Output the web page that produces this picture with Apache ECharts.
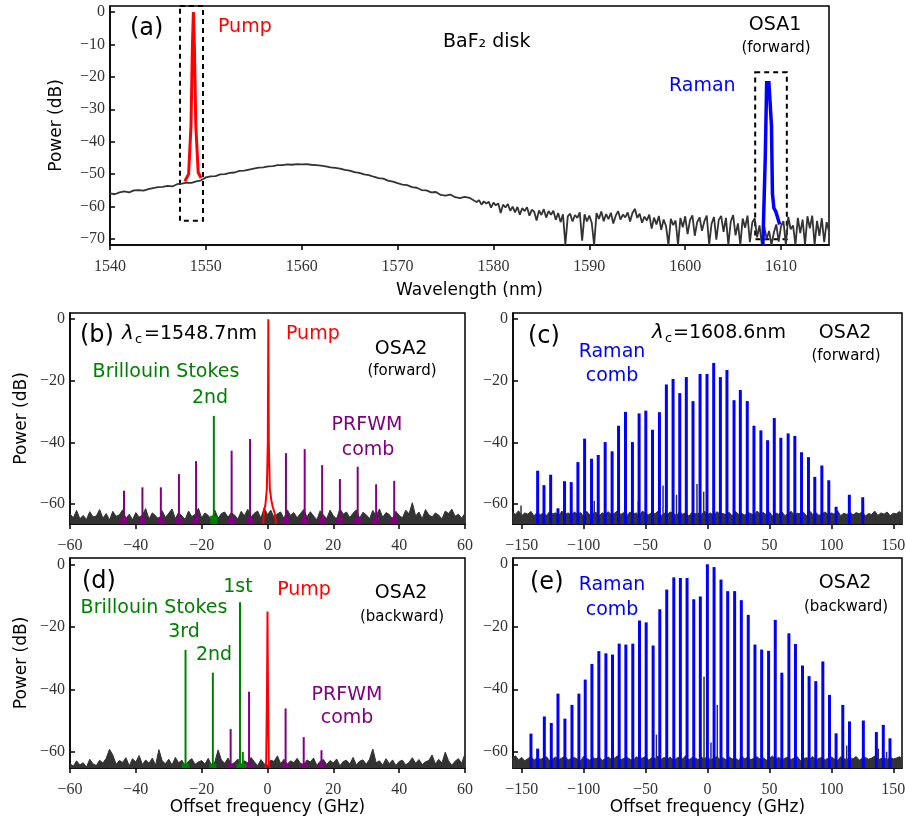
<!DOCTYPE html>
<html>
<head>
<meta charset="utf-8">
<script src="https://cdn.jsdelivr.net/npm/echarts@6/dist/echarts.min.js"></script>
<style>
  html, body { margin: 0; padding: 0; background: #fff; }
  #chart { width: 906px; height: 822px; }
</style>
</head>
<body>
<div id="chart"></div>
<script>
// ---- (a) OSA1 broadband spectrum ----
const aSmoothStart = 1540, aSmoothStep = 0.5
const aSmooth = [
  -55.9, -56.2, -55.6, -55.3, -55.6, -55.0, -54.9, -55.1, -54.6, -54.3,
  -54.0, -53.9, -53.6, -53.8, -53.1, -52.9, -52.6, -52.7, -52.2, -51.9,
  -51.0, -50.7, -50.6, -50.1, -50.0, -49.6, -49.5, -49.0, -48.9, -48.6,
  -48.3, -48.0, -47.9, -47.6, -47.5, -47.2, -47.2, -47.0, -47.1, -46.9,
  -47.0, -46.9, -47.1, -47.2, -47.4, -47.6, -47.9, -48.1, -48.3, -48.7,
  -48.9, -49.4, -49.6, -50.1, -50.3, -50.8, -51.2, -51.4, -52.0, -52.3,
  -52.8, -53.2, -53.4, -54.0, -54.2, -54.9, -55.0, -55.6, -55.5, -56.4,
  -56.6, -56.3, -57.1, -57.4, -57.0, -57.3,
]
const aNoiseStart = 1578, aNoiseStep = 0.25
const aNoise = [
  -58.2, -58.6, -58.0, -59.4, -58.4, -59.1, -58.5, -60.3,
  -58.8, -59.6, -59.0, -62.0, -59.4, -60.3, -59.2, -61.3,
  -60.0, -61.8, -60.1, -62.5, -60.5, -61.4, -60.2, -62.8,
  -61.0, -61.6, -64.3, -61.2, -62.6, -60.8, -63.4, -61.4,
  -62.5, -61.3, -64.1, -62.0, -64.8, -62.4, -71.8, -63.0,
  -62.2, -64.6, -62.6, -63.5, -61.8, -70.5, -62.4, -64.6,
  -62.8, -65.0, -71.8, -62.0, -63.8, -61.5, -64.5, -62.3,
  -63.9, -61.9, -65.2, -62.8, -61.4, -64.0, -62.5, -63.3,
  -61.8, -64.6, -62.0, -60.7, -63.5, -62.2, -65.0, -63.1,
  -64.3, -62.5, -66.8, -63.4, -65.5, -62.9, -67.2, -64.0,
  -66.0, -71.8, -63.8, -65.7, -64.3, -71.8, -63.5, -66.4,
  -63.0, -68.5, -64.2, -62.7, -69.0, -64.8, -63.3, -67.5,
  -64.5, -62.8, -71.8, -65.3, -63.2, -70.2, -64.1, -62.9,
  -67.8, -63.5, -71.8, -64.7, -62.6, -68.9, -65.2, -71.8,
  -63.7, -66.5, -62.8, -71.0, -64.9, -63.6, -69.5, -65.8,
  -71.8, -66.2, -70.0, -67.5, -71.8, -68.0, -65.5, -70.8,
  -66.0, -64.5, -71.8, -63.2, -67.0, -65.8, -71.8, -63.5,
  -68.2, -64.0, -71.8, -63.0, -66.7, -62.8, -71.8, -64.4,
  -69.0, -63.6, -71.0, -64.8, -67.5,
]
const aPump = [
  [1547.8, -52.2], [1548.2, -50.0], [1548.45, -35], [1548.6, -10], [1548.7, 0],
  [1548.8, -10], [1548.95, -35], [1549.2, -49.5], [1549.5, -51.2],
]
const aRaman = [
  [1608.1, -72], [1608.35, -45], [1608.5, -21.3], [1608.62, -26], [1608.72, -21.3],
  [1608.92, -21.3], [1609.0, -35], [1609.1, -56], [1609.25, -60.5], [1609.45, -61.5],
  [1609.6, -63], [1609.85, -65.5],
]
const aBoxPump = [1547.3, 1549.7, -64.4, 1.85]
const aBoxRaman = [1607.3, 1610.6, -70.1, -18.6]

// ---- (b) OSA2 forward around pump ----
const bFloorStart = -60, bFloorStep = 1
const bFloor = [
  -63.2, -64.5, -62.1, -64.8, -63.7, -65.0, -62.5, -64.2, -63.9, -61.8,
  -64.6, -63.1, -65.2, -62.4, -64.0, -63.5, -61.9, -64.7, -63.3, -65.1,
  -62.8, -64.3, -63.6, -61.5, -64.9, -62.9, -63.8, -65.3, -62.2, -64.4,
  -63.0, -61.6, -64.8, -62.7, -63.9, -65.0, -62.3, -64.1, -63.4, -61.4,
  -64.5, -62.9, -63.7, -65.2, -62.0, -64.6, -63.1, -62.6, -64.3, -62.8,
  -63.6, -64.9, -62.4, -63.8, -61.7, -64.2, -63.0, -62.3, -64.6, -61.2,
  -63.5, -62.0, -64.4, -63.2, -62.6, -64.8, -61.9, -63.7, -62.8, -64.5,
  -63.1, -61.8, -64.2, -62.5, -63.9, -65.1, -62.2, -63.6, -64.7, -62.0,
  -63.8, -64.9, -61.5, -63.3, -62.6, -64.4, -63.0, -61.9, -64.6, -62.7,
  -63.5, -64.8, -62.1, -63.9, -61.6, -64.3, -62.8, -63.4, -65.0, -62.4,
  -63.7, -64.5, -62.0, -63.2, -59.6, -63.9, -62.6, -64.8, -61.8, -63.5,
  -64.2, -62.9, -63.6, -64.9, -62.3, -63.1, -61.7, -64.0, -63.3, -64.6,
  -63.0,
]
const bCombX = [-43.6, -38.0, -32.4, -26.9, -21.7, -10.9, -5.3, 5.6, 11.3, 16.6, 22.0, 27.4, 33.0, 38.5]
const bCombY = [-55.7, -54.6, -54.6, -50.3, -46.1, -42.7, -38.9, -43.5, -42.2, -47.4, -51.9, -47.9, -53.6, -52.5]
const bStokesX = [-16.3]
const bStokesY = [-31.4]
const bPump = [
  [-1.3, -66.5], [-1.0, -62], [-0.6, -60], [-0.2, -55], [0.1, -40], [0.25, 0],
  [0.4, -40], [0.7, -55], [1.2, -59], [1.6, -61], [2.2, -63], [2.6, -66.5],
]

// ---- (c) OSA2 forward Raman comb ----
const cFloorStart = -157.5, cFloorStep = 2.5
const cFloor = [
  -62.6, -63.4, -62.2, -63.8, -62.9, -63.3, -62.4, -63.9, -62.7, -63.5,
  -63.0, -63.7, -62.5, -63.2, -62.9, -63.8, -62.3, -63.4, -62.9, -63.6,
  -62.6, -63.3, -62.8, -64.0, -62.4, -63.5, -63.1, -62.7, -63.8, -62.9,
  -63.2, -62.5, -63.6, -63.0, -62.2, -63.4, -62.8, -63.7, -62.6, -63.3,
  -62.9, -63.8, -62.3, -63.1, -63.5, -62.7, -63.2, -62.4, -63.9, -63.0,
  -63.4, -62.6, -63.1, -63.7, -62.5, -63.3, -62.8, -64.0, -62.7, -63.2,
  -63.0, -63.6, -62.3, -63.4, -62.9, -63.8, -62.5, -63.2, -63.1, -63.5,
  -62.7, -63.9, -62.4, -63.3, -63.0, -63.6, -62.8, -63.1, -63.7, -62.3,
  -63.2, -62.8, -63.5, -62.6, -64.0, -62.9, -63.3, -62.5, -63.8, -63.1,
  -62.4, -63.6, -63.0, -63.2, -62.7, -63.9, -62.3, -63.4, -62.8, -63.7,
  -63.1, -62.6, -63.5, -62.9, -63.3, -62.2, -63.8, -63.0, -63.4, -62.7,
  -63.6, -62.8, -63.2, -62.5, -63.9, -63.1, -63.4, -62.3, -63.7, -62.9,
  -63.3, -62.6, -63.8, -63.0, -63.2, -62.4, -63.5,
]
const cSpikeX = [-150.5, -91.4, -55.8, -35.9, -25.0, -8.5, -3.1, 125.8]
const cSpikeY = [-60.5, -59.0, -59.1, -54.0, -57.0, -53.5, -56.0, -60.0]
const cCombX = [
  -137.1, -132.0, -126.6, -120.7, -115.4, -110.0, -104.6, -99.2, -93.6, -88.2,
  -82.6, -77.0, -71.8, -66.2, -60.6, -55.2, -49.8, -44.4, -38.8, -33.2,
  -27.8, -22.4, -17.1, -11.7, -6.0, -0.4, 5.0, 10.4, 15.7, 21.4,
  26.5, 32.1, 37.5, 43.1, 48.5, 53.9, 59.2, 65.1, 70.5, 75.9,
  81.5, 86.6, 92.3, 97.9, 103.8, 114.5, 125.3,
]
const cCombY = [
  -49.2, -53.9, -50.5, -61.4, -52.6, -52.9, -46.4, -38.8, -45.3, -44.1,
  -39.9, -42.9, -34.6, -30.1, -39.9, -30.6, -29.7, -35.9, -30.2, -21.2,
  -19.4, -24.0, -18.8, -26.6, -17.8, -17.8, -14.2, -18.8, -16.5, -26.3,
  -23.0, -26.6, -34.6, -36.1, -39.3, -32.1, -38.5, -37.1, -37.9, -43.2,
  -44.8, -51.2, -47.5, -52.3, -60.9, -57.0, -57.8,
]

// ---- (d) OSA2 backward around pump ----
const dFloorStart = -60, dFloorStep = 1
const dFloor = [
  -63.8, -64.6, -62.9, -64.2, -63.5, -64.9, -62.4, -63.9, -64.4, -62.7,
  -63.6, -62.1, -59.2, -61.0, -64.0, -62.8, -63.4, -61.9, -64.5, -62.2,
  -63.3, -61.2, -64.1, -62.6, -63.7, -62.0, -64.3, -59.3, -62.9, -63.8,
  -62.4, -64.2, -61.8, -63.5, -62.7, -64.6, -63.0, -62.2, -64.0, -63.3,
  -62.8, -63.9, -62.1, -64.4, -63.2, -59.4, -62.6, -63.7, -62.0, -64.1,
  -63.4, -62.3, -64.2, -62.9, -63.6, -61.8, -63.2, -64.5, -62.5, -63.9,
  -64.3, -62.7, -63.1, -61.3, -63.8, -62.4, -64.0, -62.9, -63.5, -62.1,
  -63.7, -64.2, -62.6, -63.3, -62.0, -64.4, -63.0, -62.5, -64.1, -62.8,
  -63.6, -62.3, -64.5, -63.1, -62.7, -63.9, -61.8, -64.2, -63.0, -62.6,
  -64.0, -62.4, -59.1, -63.5, -62.9, -64.3, -62.2, -63.8, -62.6, -64.4,
  -63.1, -62.7, -64.2, -63.4, -61.9, -63.7, -62.5, -64.1, -63.2, -62.8,
  -61.0, -63.9, -62.4, -63.6, -60.1, -62.9, -64.3, -63.0, -62.2, -63.7,
  -60.6,
]
const dCombX = [-11.2, -5.6, 5.5, 11.0, 16.4]
const dCombY = [-52.7, -40.7, -46.1, -55.3, -59.5]
const dStokesX = [-24.9, -16.6, -8.35, -7.5]
const dStokesY = [-27.3, -34.6, -12.0, -60.0]
const dPump = [
  [-0.6, -65.2], [-0.4, -63], [-0.15, -40], [0, -15], [0.15, -40], [0.4, -63], [0.6, -65.2],
]

// ---- (e) OSA2 backward Raman comb ----
const eFloorStart = -157.5, eFloorStep = 2.5
const eFloor = [
  -62.0, -61.3, -62.6, -61.8, -62.9, -62.2, -61.5, -62.7, -61.9, -62.4,
  -62.1, -61.6, -62.8, -62.3, -61.7, -62.5, -62.0, -61.4, -62.6, -62.2,
  -61.8, -62.4, -62.9, -61.5, -62.1, -62.7, -61.9, -62.3, -61.6, -62.8,
  -62.2, -61.7, -62.5, -62.0, -61.3, -62.6, -62.1, -61.8, -62.4, -62.9,
  -61.6, -62.3, -62.0, -61.5, -62.7, -61.9, -62.2, -61.4, -62.5, -61.8,
  -62.4, -61.7, -62.8, -62.1, -61.6, -62.3, -61.2, -62.6, -61.9, -62.0,
  -62.5, -61.8, -62.2, -61.5, -62.7, -62.0, -61.6, -62.4, -61.9, -62.6,
  -61.7, -62.3, -62.0, -62.8, -61.5, -62.2, -61.8, -62.5, -62.1, -61.6,
  -62.4, -61.9, -62.7, -62.0, -61.4, -62.3, -61.8, -62.6, -62.1, -61.7,
  -62.5, -62.0, -61.6, -62.8, -62.2, -61.9, -62.4, -61.5, -62.7, -62.1,
  -61.8, -62.6, -62.0, -61.7, -62.3, -62.9, -61.6, -62.2, -62.5, -61.9,
  -62.3, -61.5, -62.7, -62.1, -61.8, -62.4, -62.0, -61.4, -62.6, -62.2,
  -61.9, -62.5, -61.7, -62.3, -62.0, -61.6, -62.4,
]
const eSpikeX = [-41.2, -2.8, 2.8, 7.9, 112.4, 137.9, 144.6]
const eSpikeY = [-54.5, -36.0, -57.0, -45.0, -58.0, -59.0, -60.0]
const eCombX = [
  -142.5, -137.1, -131.7, -126.1, -120.7, -115.1, -109.4, -103.8, -98.7, -93.3,
  -87.7, -82.0, -76.7, -71.3, -65.9, -60.3, -54.9, -49.5, -43.9, -38.5,
  -32.9, -27.2, -21.9, -16.5, -11.1, -5.8, -0.1, 5.3, 10.9, 16.3,
  21.9, 27.3, 32.9, 38.3, 43.7, 49.3, 54.7, 60.0, 65.7, 71.0,
  76.7, 82.0, 87.4, 93.1, 98.5, 103.8, 109.2, 114.6, 125.8, 136.3,
  141.9, 147.3,
]
const eCombY = [
  -54.2, -59.0, -48.7, -50.8, -41.4, -49.4, -45.0, -41.4, -36.9, -31.9,
  -27.8, -28.5, -28.9, -25.4, -25.7, -25.4, -18.0, -18.6, -26.0, -14.4,
  -8.1, -4.2, -4.4, -4.4, -11.2, -10.3, 0.0, -0.9, -4.9, -8.6,
  -8.6, -11.5, -16.2, -25.7, -27.3, -27.7, -17.8, -34.7, -22.1, -25.5,
  -32.4, -35.8, -37.4, -31.1, -41.8, -54.1, -45.0, -50.3, -50.0, -53.7,
  -51.4, -55.7,
]

// axis ranges
const aX = [1540, 1615], aY = [-71.85, 1.85]
const bX = [-60, 60], bY = [-66.5, 2]
const cX = [-157, 157], cY = [-66.5, 2]
const dX = [-60, 60], dY = [-65.2, 2.2]
const eX = [-157, 157], eY = [-65.2, 2]
const aXTicks = [1540, 1550, 1560, 1570, 1580, 1590, 1600, 1610]
const aYTicks = [0, -10, -20, -30, -40, -50, -60, -70]
const smallXTicks = [-60, -40, -20, 0, 20, 40, 60]
const wideXTicks = [-150, -100, -50, 0, 50, 100, 150]
const combYTicks = [0, -20, -40, -60]

const BLUE = '#0000ff', RED = '#ff0000', GREEN = '#008000', PURPLE = '#800080', DARK = '#333333'
const SANS = 'DejaVu Sans'
const SERIF = 'Liberation Serif'

function pairs(start, step, ys) {
  return ys.map((y, i) => [start + i * step, y])
}
function zip(xs, ys) {
  return xs.map((x, i) => [x, ys[i]])
}
const minus = (v) => String(v).replace('-', '\u2212')

function xAxisFor(gridIndex, range, ticks, name) {
  return {
    type: 'value', gridIndex, min: range[0], max: range[1],
    name: name || '', nameLocation: 'middle', nameGap: name === 'Wavelength (nm)' ? 37 : 25,
    nameTextStyle: { fontFamily: SANS, fontSize: 17, color: '#000' },
    axisLine: { onZero: false, lineStyle: { color: '#000', width: 1.5 } },
    axisTick: { customValues: ticks, inside: false, length: 5, lineStyle: { color: '#000', width: 1.5 } },
    axisLabel: { customValues: ticks, formatter: minus, margin: 14, fontFamily: SERIF, fontSize: 16, color: '#333' },
    splitLine: { show: false },
  }
}
function yAxisFor(gridIndex, range, ticks, name, gap) {
  return {
    type: 'value', gridIndex, min: range[0], max: range[1],
    name: name || '', nameLocation: 'middle', nameGap: gap || 40,
    nameTextStyle: { fontFamily: SANS, fontSize: 17, color: '#000' },
    axisLine: { onZero: false, lineStyle: { color: '#000', width: 1.5 } },
    axisTick: { customValues: ticks, inside: true, length: 5, lineStyle: { color: '#000', width: 1.5 } },
    axisLabel: { customValues: ticks, formatter: minus, margin: 5, fontFamily: SERIF, fontSize: 16, color: '#333' },
    splitLine: { show: false },
  }
}

function floorSeries(idx, data) {
  return {
    type: 'line', xAxisIndex: idx, yAxisIndex: idx, data, showSymbol: false, silent: true,
    lineStyle: { color: DARK, width: 1 },
    areaStyle: { color: DARK, opacity: 1, origin: 'start' },
    z: 2,
  }
}
// vertical comb line from peak to the axis bottom, optionally with a small coloured foot on the floor
function combSeries(idx, xs, ys, color, width, yBottom, foot) {
  return {
    type: 'custom', xAxisIndex: idx, yAxisIndex: idx, data: zip(xs, ys), clip: true, silent: true, z: 3,
    renderItem: (params, api) => {
      const x = api.value(0)
      const top = api.coord([x, api.value(1)])
      const bot = api.coord([x, yBottom])
      const children = [{
        type: 'line',
        shape: { x1: top[0], y1: top[1], x2: bot[0], y2: bot[1] },
        style: { stroke: color, lineWidth: width },
      }]
      if (foot) {
        const p0 = api.coord([x - foot[0], foot[1]])
        const p1 = api.coord([x + foot[0], yBottom])
        children.push({
          type: 'rect',
          shape: { x: p0[0], y: p0[1], width: p1[0] - p0[0], height: p1[1] - p0[1] },
          style: { fill: color },
        })
      }
      return { type: 'group', children }
    },
  }
}
function peakSeries(idx, data, color, width) {
  return {
    type: 'line', xAxisIndex: idx, yAxisIndex: idx, data, showSymbol: false, silent: true,
    lineStyle: { color, width }, z: 4,
  }
}

function txt(x, y, text, opts) {
  const o = opts || {}
  return {
    type: 'text', x, y, silent: true, z: 100,
    style: {
      text, fill: o.color || '#000', fontFamily: SANS, fontSize: o.size || 19,
      fontStyle: o.italic ? 'italic' : 'normal',
      align: o.align || 'left', verticalAlign: 'middle',
    },
  }
}

const chart = echarts.init(document.getElementById('chart'), null, { renderer: 'canvas' })

const gridStyle = { show: true, borderColor: '#000', borderWidth: 1.5, backgroundColor: 'transparent', outerBoundsMode: 'none' }

chart.setOption({
  animation: false,
  backgroundColor: '#fff',
  grid: [
    { ...gridStyle, left: 110, top: 6, width: 719, height: 239 },
    { ...gridStyle, left: 70, top: 313, width: 395, height: 211 },
    { ...gridStyle, left: 513, top: 313, width: 389, height: 211 },
    { ...gridStyle, left: 70, top: 558, width: 395, height: 210 },
    { ...gridStyle, left: 513, top: 558, width: 389, height: 210 },
  ],
  xAxis: [
    xAxisFor(0, aX, aXTicks, 'Wavelength (nm)'),
    xAxisFor(1, bX, smallXTicks),
    xAxisFor(2, cX, wideXTicks),
    xAxisFor(3, dX, smallXTicks, 'Offset frequency (GHz)'),
    xAxisFor(4, eX, wideXTicks, 'Offset frequency (GHz)'),
  ],
  yAxis: [
    yAxisFor(0, aY, aYTicks, 'Power (dB)', 45),
    yAxisFor(1, bY, combYTicks, 'Power (dB)', 40),
    yAxisFor(2, cY, combYTicks),
    yAxisFor(3, dY, combYTicks, 'Power (dB)', 40),
    yAxisFor(4, eY, combYTicks),
  ],
  series: [
    // (a)
    {
      type: 'line', xAxisIndex: 0, yAxisIndex: 0, showSymbol: false, silent: true, z: 2,
      data: pairs(aSmoothStart, aSmoothStep, aSmooth).concat(pairs(aNoiseStart, aNoiseStep, aNoise)),
      lineStyle: { color: DARK, width: 1.8 },
      markArea: {
        silent: true,
        label: { show: false },
        itemStyle: { color: 'rgba(0,0,0,0)', borderColor: '#000', borderWidth: 2, borderType: [5, 4] },
        data: [
          [{ coord: [aBoxPump[0], aBoxPump[3]] }, { coord: [aBoxPump[1], aBoxPump[2]] }],
          [{ coord: [aBoxRaman[0], aBoxRaman[3]] }, { coord: [aBoxRaman[1], aBoxRaman[2]] }],
        ],
      },
    },
    peakSeries(0, aPump, RED, 3),
    peakSeries(0, aRaman, BLUE, 3.5),
    // (b)
    floorSeries(1, pairs(bFloorStart, bFloorStep, bFloor)),
    combSeries(1, bCombX, bCombY, PURPLE, 2, bY[0], [1.1, -64.3]),
    combSeries(1, bStokesX, bStokesY, GREEN, 2, bY[0], [1.1, -63.8]),
    peakSeries(1, bPump, RED, 2),
    // (c)
    floorSeries(2, pairs(cFloorStart, cFloorStep, cFloor)),
    combSeries(2, cSpikeX, cSpikeY, DARK, 1.5, cY[0]),
    combSeries(2, cCombX, cCombY, BLUE, 3, cY[0]),
    // (d)
    floorSeries(3, pairs(dFloorStart, dFloorStep, dFloor)),
    combSeries(3, dCombX, dCombY, PURPLE, 2, dY[0], [1.1, -63.8]),
    combSeries(3, dStokesX, dStokesY, GREEN, 2, dY[0], [1.1, -63.8]),
    peakSeries(3, dPump, RED, 2),
    // (e)
    floorSeries(4, pairs(eFloorStart, eFloorStep, eFloor)),
    combSeries(4, eSpikeX, eSpikeY, DARK, 1.5, eY[0]),
    combSeries(4, eCombX, eCombY, BLUE, 3, eY[0]),
  ],
  graphic: [
    // (a)
    txt(130, 29, '(a)', { size: 24 }),
    txt(218, 27, 'Pump', { color: RED }),
    txt(443, 42, 'BaF\u2082 disk'),
    txt(775, 25, 'OSA1', { align: 'center' }),
    txt(776, 48, '(forward)', { align: 'center', size: 15 }),
    txt(669, 86, 'Raman', { color: BLUE }),
    // (b)
    txt(80, 336, '(b)', { size: 24 }),
    txt(122, 334, '\u03bb', { italic: true, size: 20 }),
    txt(135, 340, 'c', { size: 13 }),
    txt(144, 334, '=1548.7nm'),
    txt(286, 334, 'Pump', { color: RED }),
    txt(401, 349, 'OSA2', { align: 'center' }),
    txt(402, 371, '(forward)', { align: 'center', size: 15 }),
    txt(166, 372, 'Brillouin Stokes', { color: GREEN, align: 'center' }),
    txt(210, 398, '2nd', { color: GREEN, align: 'center' }),
    txt(367, 425, 'PRFWM', { color: PURPLE, align: 'center' }),
    txt(368, 450, 'comb', { color: PURPLE, align: 'center' }),
    // (c)
    txt(528, 337, '(c)', { size: 24 }),
    txt(652, 333, '\u03bb', { italic: true, size: 20 }),
    txt(665, 339, 'c', { size: 13 }),
    txt(673, 333, '=1608.6nm'),
    txt(845, 333, 'OSA2', { align: 'center' }),
    txt(846, 356, '(forward)', { align: 'center', size: 15 }),
    txt(612, 352, 'Raman', { color: BLUE, align: 'center' }),
    txt(612, 376, 'comb', { color: BLUE, align: 'center' }),
    // (d)
    txt(82, 582, '(d)', { size: 24 }),
    txt(238, 587, '1st', { color: GREEN, align: 'center' }),
    txt(304, 590, 'Pump', { color: RED, align: 'center' }),
    txt(401, 593, 'OSA2', { align: 'center' }),
    txt(402, 617, '(backward)', { align: 'center', size: 15 }),
    txt(154, 608, 'Brillouin Stokes', { color: GREEN, align: 'center' }),
    txt(184, 632, '3rd', { color: GREEN, align: 'center' }),
    txt(214, 655, '2nd', { color: GREEN, align: 'center' }),
    txt(347, 695, 'PRFWM', { color: PURPLE, align: 'center' }),
    txt(347, 718, 'comb', { color: PURPLE, align: 'center' }),
    // (e)
    txt(530, 583, '(e)', { size: 24 }),
    txt(612, 585, 'Raman', { color: BLUE, align: 'center' }),
    txt(612, 610, 'comb', { color: BLUE, align: 'center' }),
    txt(845, 583, 'OSA2', { align: 'center' }),
    txt(846, 607, '(backward)', { align: 'center', size: 15 }),
  ],
})
</script>
</body>
</html>
